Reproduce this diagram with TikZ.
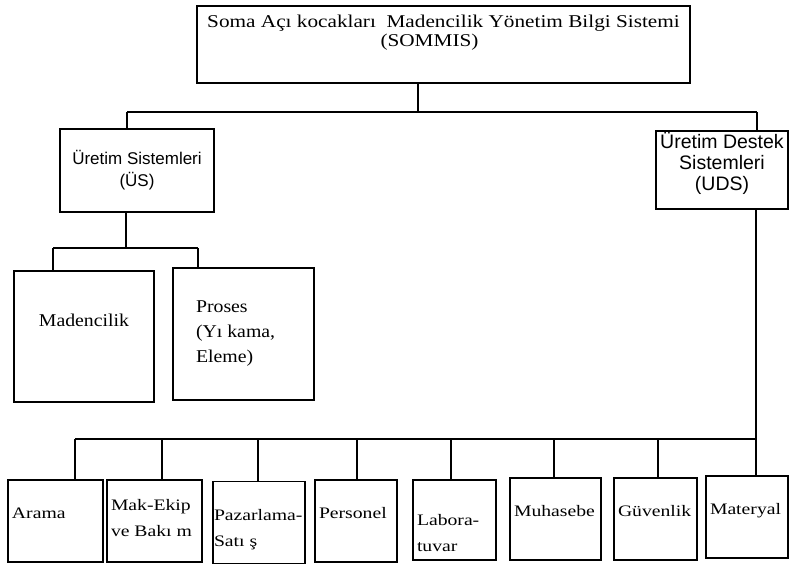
\documentclass[tikz,border=0pt]{standalone}
\usepackage{fontspec}
\setmainfont{Liberation Serif}
\newfontfamily\sansfont{Liberation Sans}
\newfontfamily\topfont[FakeStretch=1.18]{Liberation Serif}
\newfontfamily\midfont[FakeStretch=1.1]{Liberation Serif}
\newfontfamily\lowfont[FakeStretch=1.23]{Liberation Serif}
\begin{document}
\begin{tikzpicture}[x=1pt,y=-1pt,
  box/.style={draw, line width=1.8pt, inner ysep=0pt},
  sysbox/.style={box, align=center},
  unitbox/.style={box, text width=#1-8pt, inner xsep=4pt, align=flush left, minimum height=82pt,
    font=\lowfont\fontsize{16}{26}\selectfont, text height=11pt, text depth=17pt},
  wire/.style={line width=1.8pt}]
\useasboundingbox (0,0) rectangle (789,568);

\node[box, minimum width=493pt, minimum height=77pt, align=center, text height=20pt, text depth=17pt,
  font=\topfont\fontsize{18}{19}\selectfont] (sommis) at (443.5,44.5)
  {Soma Açı kocakları \ Madencilik Yönetim Bilgi Sistemi\\(SOMMIS)\hspace*{28pt}};

\node[sysbox, minimum width=154pt, minimum height=83pt, font=\sansfont\fontsize{17}{22}\selectfont] (us) at (137,170.5) {Üretim Sistemleri\\(ÜS)};
\node[sysbox, minimum width=132pt, minimum height=78pt, text height=45pt, text depth=5pt,
  font=\sansfont\fontsize{19.5}{21}\selectfont] (uds) at (722,170) {Üretim Destek\\Sistemleri\\(UDS)};

\node[box, minimum width=140pt, minimum height=131pt, text height=13pt, text depth=34pt,
  font=\midfont\fontsize{18}{25}\selectfont] (madencilik) at (84,336.5) {Madencilik};
\node[box, minimum height=132pt, text width=95pt, inner xsep=23pt, align=flush left,
  font=\midfont\fontsize{18}{25}\selectfont] (proses) at (243.5,334) {Proses\\(Yı kama,\\Eleme)};

\node[unitbox=95pt] (arama) at (55.5,521) {Arama};
\node[unitbox=95pt, text height=8pt, text depth=30pt] (mak) at (154.5,521) {Mak-Ekip\\ve Bakı m};
\node[unitbox=92pt, inner xsep=1pt, text width=90pt, text height=24pt, text depth=29pt] (pazar) at (259,522.5) {Pazarlama-\\Satı ş};
\node[unitbox=82pt] (personel) at (356,521) {Personel};
\node[unitbox=83pt, minimum height=80pt, text height=39pt, text depth=29pt] (labora) at (454.5,520) {Labora-\\tuvar};
\node[unitbox=91pt] (muhasebe) at (555.5,519) {Muhasebe};
\node[unitbox=83pt] (guvenlik) at (655.5,519) {Güvenlik};
\node[unitbox=82pt] (materyal) at (747,517) {Materyal};

% bus lines
\coordinate (topbus) at (418,112);
\coordinate (usbus) at (127,112);
\coordinate (udsbus) at (757,112);
\coordinate (midbus) at (126,248);
\coordinate (madbus) at (53,248);
\coordinate (prosbus) at (198,248);
\coordinate (lowbus) at (75,439);
\coordinate (endbus) at (756,439);

\path[draw,wire] (sommis.south -| topbus) -- (topbus);
\path[draw,wire] (usbus) -- (udsbus);
\path[draw,wire] (usbus) -- (us.north -| usbus);
\path[draw,wire] (udsbus) -- (uds.north -| udsbus);

\path[draw,wire] (us.south -| midbus) -- (midbus);
\path[draw,wire] (madbus) -- (prosbus);
\path[draw,wire] (madbus) -- (madencilik.north -| madbus);
\path[draw,wire] (prosbus) -- (proses.north -| prosbus);

\path[draw,wire] (uds.south -| endbus) -- (materyal.north -| endbus);
\path[draw,wire] (lowbus) -- (endbus);
\path[draw,wire] (lowbus) -- (arama.north -| lowbus);
\path[draw,wire] (162,439) -- (mak.north -| 162,439);
\path[draw,wire] (258,439) -- (pazar.north -| 258,439);
\path[draw,wire] (357,439) -- (personel.north -| 357,439);
\path[draw,wire] (451,439) -- (labora.north -| 451,439);
\path[draw,wire] (554,439) -- (muhasebe.north -| 554,439);
\path[draw,wire] (658,439) -- (guvenlik.north -| 658,439);

\end{tikzpicture}
\end{document}
